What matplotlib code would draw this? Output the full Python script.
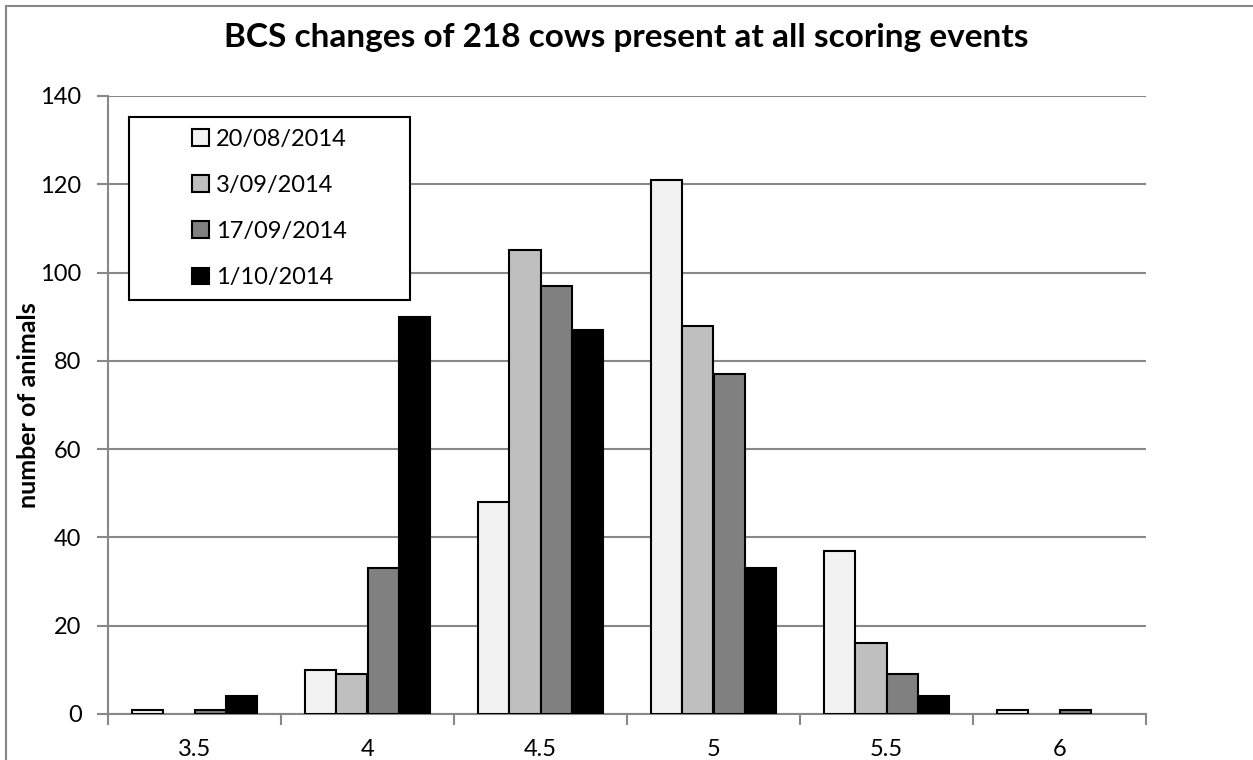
import numpy as np
import matplotlib
matplotlib.use("Agg")
import matplotlib.pyplot as plt
from matplotlib.patches import Rectangle

plt.rcParams["font.family"] = ["Lato", "DejaVu Sans"]

# BCS categories and counts per scoring event
categories = ["3.5", "4", "4.5", "5", "5.5", "6"]
dates = ["20/08/2014", "3/09/2014", "17/09/2014", "1/10/2014"]
counts_20_08 = [1, 10, 48, 121, 37, 1]
counts_03_09 = [0, 9, 105, 88, 16, 0]
counts_17_09 = [1, 33, 97, 77, 9, 1]
counts_01_10 = [4, 90, 87, 33, 4, 0]
series = [counts_20_08, counts_03_09, counts_17_09, counts_01_10]
colors = ["#f2f2f2", "#bfbfbf", "#808080", "#000000"]

W, H = 1253, 760
fig = plt.figure(figsize=(W / 100, H / 100), dpi=100)
ax = fig.add_axes([108 / W, 1 - 714 / H, (1146 - 108) / W, (714 - 96) / H])

# outer chart border (cut off at right and bottom)
fig.patches.append(Rectangle((6 / W, -0.1), 1.2, 1 - 6 / H + 0.1,
                             transform=fig.transFigure, fill=False,
                             edgecolor="#888888", linewidth=1.5))

x = np.arange(len(categories))
width = 1 / 5.5  # gap width 150%
for i, (vals, lab, col) in enumerate(zip(series, dates, colors)):
    offs = (i - 1.5) * width
    # zero counts get no outline, like the original
    lws = [1.5 if v > 0 else 0 for v in vals]
    ax.bar(x + offs, vals, width, color=col, edgecolor="black",
           linewidth=lws, label=lab, zorder=3)

ax.set_xlim(-0.5, len(categories) - 0.5)
ax.set_ylim(0, 140)
ax.set_yticks(np.arange(0, 141, 20))
ax.set_xticks(x)
ax.set_xticklabels(categories, fontsize=17)
ax.set_xticks(np.arange(-0.5, len(categories), 1), minor=True)
ax.tick_params(axis="x", which="major", length=0, pad=18)
ax.tick_params(axis="x", which="minor", length=8, width=1.5, color="#888888")
ax.tick_params(axis="y", length=8, width=1.5, color="#888888", labelsize=17, pad=11)

ax.grid(axis="y", color="#888888", linewidth=1.5, zorder=0)
for s in ["top", "right"]:
    ax.spines[s].set_visible(False)
for s in ["left", "bottom"]:
    ax.spines[s].set_color("#888888")
    ax.spines[s].set_linewidth(1.5)

ax.set_ylabel("number of animals", fontsize=18, fontweight="bold")
ax.yaxis.set_label_coords((40 - 108) / (1146 - 108), 0.5)
fig.suptitle("BCS changes of 218 cows present at all scoring events",
             fontsize=24, fontweight="bold", y=1 - 37 / H, va="center")

# legend frame drawn separately so the entries sit centred in a wide box
lx0, lx1, ly0, ly1 = 129, 410, 117, 300
ax.add_patch(Rectangle((lx0 / W, 1 - ly1 / H), (lx1 - lx0) / W, (ly1 - ly0) / H,
                       transform=fig.transFigure, facecolor="white",
                       edgecolor="black", linewidth=1.5, zorder=4,
                       clip_on=False))
leg = ax.legend(loc="center",
                bbox_to_anchor=((lx0 + lx1) / 2 / W, 1 - (ly0 + ly1) / 2 / H),
                bbox_transform=fig.transFigure, fontsize=17, frameon=False,
                handlelength=0.7, handleheight=0.7, handletextpad=0.3,
                labelspacing=1.06, borderpad=0, borderaxespad=0)
leg.set_zorder(5)
for h in leg.legend_handles:
    h.set_linewidth(1.5)
    h.set_edgecolor("black")

fig.savefig("out.png", dpi=100)
